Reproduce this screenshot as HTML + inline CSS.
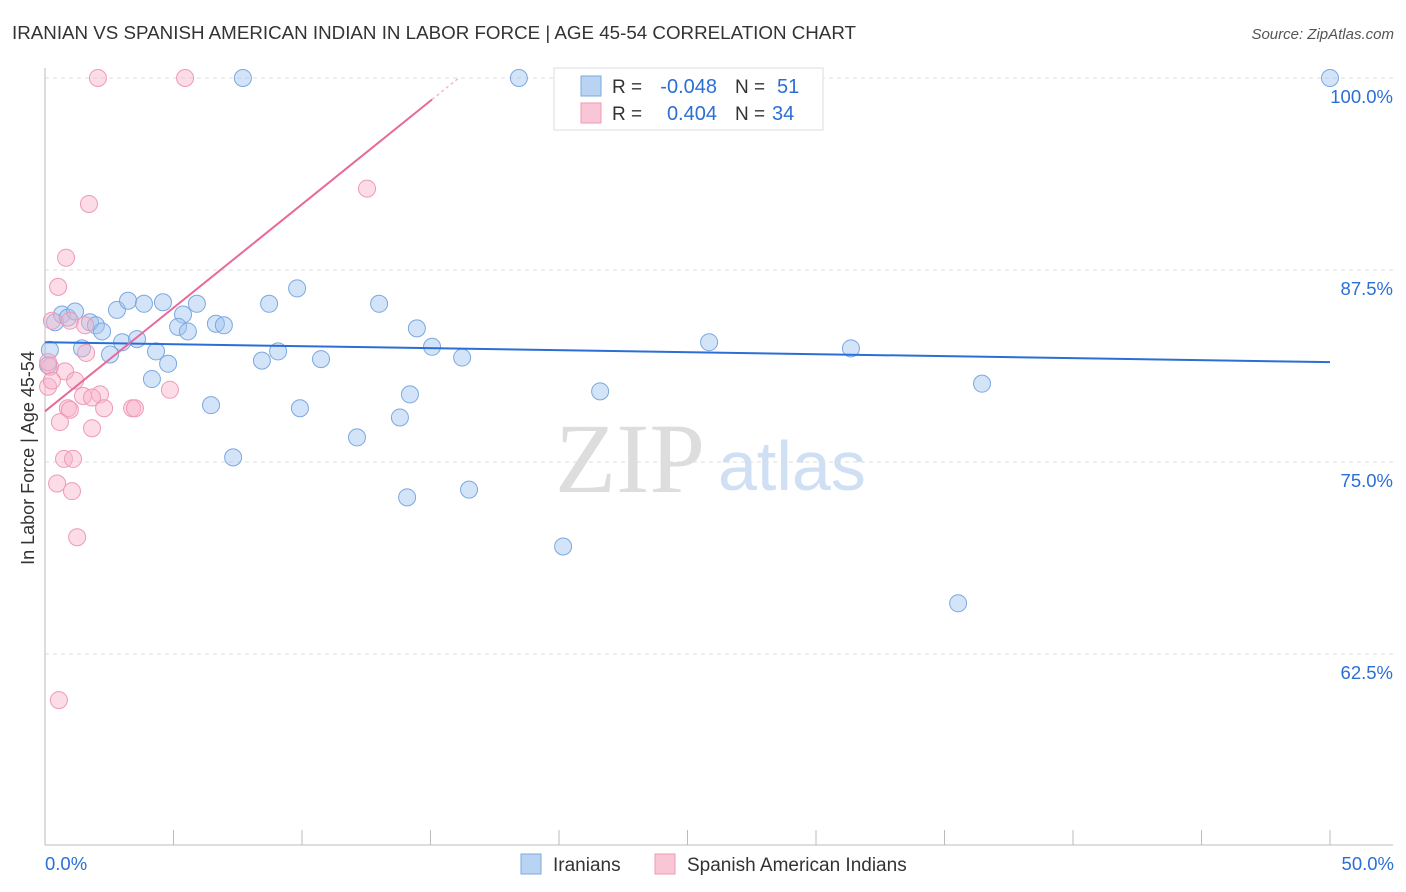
<!DOCTYPE html>
<html><head><meta charset="utf-8"><style>
body{margin:0;background:#fff;font-family:"Liberation Sans",sans-serif;}
svg{display:block}
</style></head><body>
<svg id="chart" width="1406" height="892">
<text x="12" y="39" font-size="18" fill="#333" textLength="844" lengthAdjust="spacingAndGlyphs">IRANIAN VS SPANISH AMERICAN INDIAN IN LABOR FORCE | AGE 45-54 CORRELATION CHART</text>
<text x="1394" y="39" font-size="15" fill="#555" font-style="italic" text-anchor="end">Source: ZipAtlas.com</text>
<text x="34" y="458" font-size="18" fill="#333" text-anchor="middle" transform="rotate(-90 34 458)">In Labor Force | Age 45-54</text>
<text x="555" y="492" font-size="100" fill="#ddd" font-family="Liberation Serif,serif">ZIP</text>
<text x="718" y="490" font-size="70" fill="#cfe0f4">atlas</text>
<g id="grid"></g><g id="axes"></g><g id="pts"></g><g id="trends"></g>
<g>
<rect x="554" y="68" width="269" height="62" fill="#fff" stroke="#ddd"/>
<rect x="581" y="76" width="20" height="20" fill="#b9d3f3" stroke="#7aa8e0"/>
<rect x="581" y="103" width="20" height="20" fill="#f9c6d6" stroke="#ee9ab5"/>
<text x="612" y="93" font-size="19" fill="#333">R =</text>
<text x="717" y="93" font-size="20" fill="#2b6fd6" text-anchor="end">-0.048</text>
<text x="735" y="93" font-size="19" fill="#333">N =</text>
<text x="777" y="93" font-size="20" fill="#2b6fd6">51</text>
<text x="612" y="120" font-size="19" fill="#333">R =</text>
<text x="717" y="120" font-size="20" fill="#2b6fd6" text-anchor="end">0.404</text>
<text x="735" y="120" font-size="19" fill="#333">N =</text>
<text x="772" y="120" font-size="20" fill="#2b6fd6">34</text>
</g>
<g>
<rect x="521" y="854" width="20" height="20" fill="#b9d3f3" stroke="#7aa8e0"/>
<text x="553" y="871" font-size="19" fill="#333">Iranians</text>
<rect x="655" y="854" width="20" height="20" fill="#f9c6d6" stroke="#ee9ab5"/>
<text x="687" y="871" font-size="19" fill="#333">Spanish American Indians</text>
</g>
</svg>
<script>
const xTicks=[0,5,10,15,20,25,30,35,40,45,50];
const yTicks=[100,87.5,75,62.5];
const blueX=[7.7,18.44,50,0.39,0.66,0.89,1.17,1.75,1.98,2.22,2.8,3.23,3.85,4.59,5.91,5.37,5.18,5.56,6.65,6.96,3.0,3.58,2.53,1.44,4.32,4.79,4.16,8.72,9.81,13.0,14.47,15.06,16.23,10.74,9.07,8.44,6.46,9.92,14.2,13.81,12.14,7.32,14.09,16.5,20.16,21.6,25.84,31.36,36.46,35.53,0.19,0.12];
const blueY=[100,100,100,84.1,84.6,84.4,84.8,84.1,83.9,83.5,84.9,85.5,85.3,85.4,85.3,84.6,83.8,83.5,84.0,83.9,82.8,83.0,82.0,82.4,82.2,81.4,80.4,85.3,86.3,85.3,83.7,82.5,81.8,81.7,82.2,81.6,78.7,78.5,79.4,77.9,76.6,75.3,72.7,73.2,69.5,79.6,82.8,82.4,80.1,65.8,82.3,81.3];
const pinkX=[2.06,5.45,12.53,1.71,0.82,0.51,0.27,0.97,1.56,1.6,0.78,1.17,0.19,0.12,0.27,1.48,2.14,1.83,0.89,0.97,2.3,3.39,3.5,4.86,0.58,1.83,0.74,1.09,0.47,1.05,1.25,0.54,0.12];
const pinkY=[100,100,92.8,91.8,88.3,86.4,84.2,84.2,83.9,82.1,80.9,80.3,81.2,79.9,80.3,79.3,79.4,79.2,78.5,78.4,78.5,78.5,78.5,79.7,77.6,77.2,75.2,75.2,73.6,73.1,70.1,59.5,81.5];
const blueTrend=[[0,82.8],[50,81.5]];
const pinkTrend=[[0,78.3],[15.06,98.6]];
const X=v=>45+v*25.7, Y=v=>78+(100-v)*15.36;
const NS='http://www.w3.org/2000/svg';
function mk(p,t,a){const e=document.createElementNS(NS,t);for(const k in a)e.setAttribute(k,a[k]);p.appendChild(e);return e;}
const g=document.getElementById('grid'),ax=document.getElementById('axes'),pts=document.getElementById('pts'),tr=document.getElementById('trends');
yTicks.forEach(v=>{
 const l=mk(g,'line',{x1:45,x2:1393,y1:Y(v),y2:Y(v),stroke:'#ddd','stroke-dasharray':'4,4'});
 
 
 const t=mk(g,'text',{x:1393,y:Y(v)+25,'font-size':18.5,fill:'#2b6fd6','text-anchor':'end'});t.textContent=v.toFixed(1)+'%';
 
 
});
mk(ax,'line',{x1:45,x2:45,y1:68,y2:845,stroke:'#bbb'});
mk(ax,'line',{x1:45,x2:1393,y1:845,y2:845,stroke:'#bbb'});
xTicks.forEach(v=>{
 const l=mk(ax,'line',{x1:X(v),x2:X(v),y1:830,y2:845,stroke:'#bbb'});
 
 
});
[[0,'start'],[50,'end']].forEach(([v,a])=>{
 const t=mk(ax,'text',{x:v===0?X(v):X(v)+64,y:870,'font-size':18.5,fill:'#2b6fd6','text-anchor':a});t.textContent=v.toFixed(1)+'%';
 
 
});
blueX.forEach((x,i)=>{
 const c=mk(pts,'circle',{cx:X(x),cy:Y(blueY[i]),r:8.5,fill:'rgba(160,196,240,0.45)',stroke:'#7aa8e0','stroke-width':1});
 
 
});
pinkX.forEach((x,i)=>{
 const c=mk(pts,'circle',{cx:X(x),cy:Y(pinkY[i]),r:8.5,fill:'rgba(248,180,202,0.45)',stroke:'#ee9ab5','stroke-width':1});
 
 
});
const bt=mk(tr,'line',{x1:X(blueTrend[0][0]),y1:Y(blueTrend[0][1]),x2:X(blueTrend[1][0]),y2:Y(blueTrend[1][1]),stroke:'#2b6fd6','stroke-width':2});


const pt=mk(tr,'line',{x1:X(pinkTrend[0][0]),y1:Y(pinkTrend[0][1]),x2:X(pinkTrend[1][0]),y2:Y(pinkTrend[1][1]),stroke:'#e8699a','stroke-width':2});


const s=(pinkTrend[1][1]-pinkTrend[0][1])/(pinkTrend[1][0]-pinkTrend[0][0]);
const ex=pinkTrend[1][0]+(100-pinkTrend[1][1])/s;
const pe=mk(tr,'line',{x1:X(pinkTrend[1][0]),y1:Y(pinkTrend[1][1]),x2:X(ex),y2:Y(100),stroke:'#f3b8cc','stroke-width':1.5,'stroke-dasharray':'3,3'});


</script>
</body></html>
